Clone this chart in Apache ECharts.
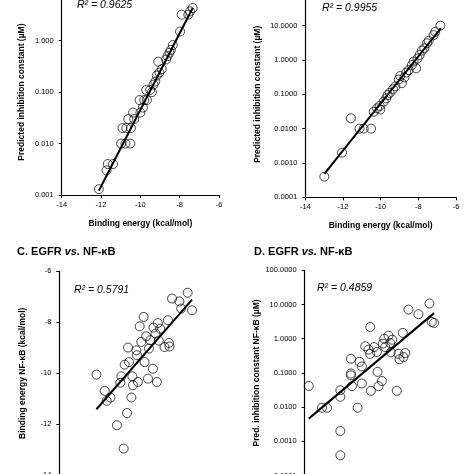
<!DOCTYPE html>
<html><head><meta charset="utf-8">
<script src="https://cdn.jsdelivr.net/npm/echarts@6/dist/echarts.min.js"></script>
<style>html,body{margin:0;padding:0;background:#fff}#c{width:474px;height:474px}</style>
</head><body><div id="c"></div>
<script>
// Panel A: EGFR binding energy (kcal/mol) vs predicted inhibition constant (µM)
const aEnergy = [-12.11,-11.72,-11.66,-11.39,-10.98,-10.76,-10.51,-10.91,-10.71,-10.48,-10.61,-10.31,-10.37,-10.0,-10.04,-9.80,-9.67,-9.87,-9.70,-9.50,-9.41,-9.33,-9.24,-9.16,-9.09,-9.03,-8.91,-8.69,-8.62,-8.52,-8.45,-8.35,-7.98,-7.90,-7.56,-7.47,-7.34];
const aKi = [0.0013,0.003,0.004,0.004,0.01,0.01,0.01,0.02,0.02,0.02,0.03,0.03,0.04,0.04,0.07,0.07,0.07,0.05,0.11,0.11,0.10,0.14,0.16,0.21,0.39,0.24,0.28,0.43,0.50,0.58,0.66,0.82,1.5,3.2,3.2,3.7,4.3];
const aFit = [[-12.11,0.00121],[-7.34,4.3]];
const aR2 = 'R² = 0.9625';

// Panel B: NF-kB binding energy vs predicted inhibition constant
const bEnergy = [-12.99,-12.05,-11.58,-11.12,-10.90,-10.51,-10.37,-10.19,-10.05,-10.02,-9.84,-9.63,-9.52,-9.70,-9.35,-9.22,-9.04,-8.96,-8.87,-8.74,-8.64,-8.51,-8.34,-8.25,-8.12,-8.04,-7.93,-7.81,-7.68,-7.54,-7.45,-7.19,-7.10,-6.83];
const bKi = [0.0004,0.002,0.02,0.01,0.01,0.01,0.031,0.039,0.046,0.036,0.061,0.095,0.11,0.076,0.14,0.17,0.27,0.34,0.21,0.31,0.43,0.51,0.71,0.9,0.57,1.1,1.4,1.87,2.2,3.06,3.6,5.3,6.6,10];
const bFit = [[-12.99,0.00048],[-6.80,8.4]];
const bR2 = 'R² = 0.9955';

// Panel C: EGFR binding energy vs NF-kB binding energy
const cEgfr = [-12.12,-11.7,-11.6,-11.41,-11.08,-10.91,-10.86,-10.74,-10.69,-10.57,-10.52,-10.47,-10.35,-10.3,-10.27,-10.1,-10.07,-10.02,-9.93,-9.85,-9.73,-9.68,-9.6,-9.51,-9.46,-9.39,-9.26,-9.23,-9.13,-9.06,-9.01,-8.96,-8.89,-8.67,-8.5,-8.45,-8.42,-8.29,-7.92,-7.83,-7.5,-7.28];
const cNfkb = [-10.05,-10.69,-11.08,-10.95,-12.04,-10.37,-10.12,-12.95,-9.66,-11.56,-8.99,-9.56,-10.95,-10.12,-10.47,-9.1,-9.29,-10.34,-8.16,-8.77,-7.79,-9.56,-8.55,-10.21,-9.03,-8.7,-9.82,-8.21,-8.44,-10.34,-8.03,-8.72,-8.25,-8.97,-7.92,-8.81,-8.95,-7.07,-7.18,-7.46,-6.84,-7.53];
const cFit = [[-12.12,-11.41],[-7.28,-7.11]];
const cR2 = 'R² = 0.5791';

// Panel D: EGFR predicted Ki vs NF-kB predicted Ki
const dEgfr = [0.00128,0.00287,0.0039,0.0088,0.0088,0.0088,0.0088,0.0168,0.0168,0.0168,0.0178,0.0252,0.0284,0.0327,0.0327,0.0402,0.0492,0.0544,0.0544,0.0566,0.0694,0.0817,0.085,0.0904,0.111,0.118,0.128,0.136,0.166,0.184,0.191,0.208,0.275,0.305,0.324,0.397,0.414,0.458,0.561,1.03,2.01,2.32,2.67];
const dNfkb = [0.0415,0.0096,0.0096,0.002,0.00039,0.020,0.031,0.096,0.085,0.26,0.041,0.0096,0.21,0.155,0.049,0.60,0.48,2.2,0.36,0.030,0.57,0.41,0.107,0.041,0.058,0.72,1.0,0.57,1.23,0.75,0.40,0.93,0.030,0.36,0.25,1.48,0.29,0.38,7.1,5.2,10.7,3.1,2.9];
const dFit = [[0.00128,0.0046],[2.67,5.6]];
const dR2 = 'R² = 0.4859';

const energyTicks = [-14,-12,-10,-8,-6];

const FONT = 'Liberation Sans, Arial, Helvetica, sans-serif';
const zip = (x, y) => x.map((v, i) => [v, y[i]]);

function axisCommon(idx) {
  return {
    gridIndex: idx,
    axisLine: {show: true, lineStyle: {color: '#000', width: 1.2}},
    axisTick: {show: true, inside: false, length: 3, lineStyle: {color: '#000', width: 1}},
    splitLine: {show: false},
    axisLabel: {color: '#000', fontSize: 7.5, fontFamily: FONT},
    nameTextStyle: {color: '#000', fontSize: 8.5, fontWeight: 'bold', fontFamily: FONT},
    nameLocation: 'middle'
  };
}
function energyX(idx, name) {
  return Object.assign(axisCommon(idx), {
    type: 'value', min: energyTicks[0], max: energyTicks[energyTicks.length-1], interval: 2,
    name: name, nameGap: 24,
    axisLabel: {color: '#000', fontSize: 7.5, fontFamily: FONT, margin: 6}
  });
}
function logAxis(idx, min, max, dec, name, gap) {
  return Object.assign(axisCommon(idx), {
    type: 'log', logBase: 10, min: min, max: max, interval: 1,
    name: name, nameGap: gap, nameRotate: 90,
    axisLabel: {color: '#000', fontSize: 7.5, fontFamily: FONT, margin: 8,
      formatter: v => Number(v).toFixed(dec)}
  });
}

function scatter(idx, data) {
  return {type: 'scatter', xAxisIndex: idx, yAxisIndex: idx, data: data,
    symbol: 'circle', symbolSize: 9, silent: true,
    itemStyle: {color: 'rgba(255,255,255,0)', borderColor: '#000', borderWidth: 0.9}};
}
function fit(idx, data) {
  return {type: 'line', xAxisIndex: idx, yAxisIndex: idx, data: data,
    symbol: 'none', silent: true, z: 3,
    lineStyle: {color: '#000', width: 2}};
}

const chart = echarts.init(document.getElementById('c'), null, {renderer: 'canvas'});
chart.setOption({
  animation: false,
  backgroundColor: '#fff',
  textStyle: {fontFamily: FONT},
  grid: [
    {left: 61.7, top: -10.8, width: 157.3, height: 205.8, outerBoundsMode: 'none', containLabel: false},
    {left: 305.3, top: -8.7, width: 150.7, height: 206, outerBoundsMode: 'none', containLabel: false},
    {left: 59.3, top: 271.3, width: 158, height: 204, outerBoundsMode: 'none', containLabel: false},
    {left: 304.7, top: 270.3, width: 151, height: 205.2, outerBoundsMode: 'none', containLabel: false}
  ],
  xAxis: [
    energyX(0, 'Binding energy (kcal/mol)'),
    energyX(1, 'Binding energy (kcal/mol)'),
    energyX(2, ''),
    Object.assign(logAxis(3, 0.001, 10, 4, '', 20), {nameRotate: 0})
  ],
  yAxis: [
    logAxis(0, 0.001, 10, 3, 'Predicted inhibition constant (µM)', 36),
    logAxis(1, 0.0001, 100, 4, 'Predicted inhibition constant (µM)', 42),
    Object.assign(axisCommon(2), {type: 'value', min: -14, max: -6, interval: 2,
      name: 'Binding energy NF-κB (kcal/mol)', nameGap: 32, nameRotate: 90,
      axisLabel: {color: '#000', fontSize: 7.5, fontFamily: FONT, margin: 8}}),
    logAxis(3, 0.0001, 100, 4, 'Pred. inhibition constant NF-κB (µM)', 44)
  ],
  series: [
    scatter(0, zip(aEnergy, aKi)), fit(0, aFit),
    scatter(1, zip(bEnergy, bKi)), fit(1, bFit),
    scatter(2, zip(cEgfr, cNfkb)), fit(2, cFit),
    scatter(3, zip(dEgfr, dNfkb)), fit(3, dFit)
  ],
  graphic: [
    {type: 'text', left: 77, top: 0, style: {text: aR2, fontSize: 10.5, fontStyle: 'italic', fontFamily: FONT, fill: '#000'}},
    {type: 'text', left: 322, top: 3, style: {text: bR2, fontSize: 10.5, fontStyle: 'italic', fontFamily: FONT, fill: '#000'}},
    {type: 'text', left: 74, top: 285, style: {text: cR2, fontSize: 10.5, fontStyle: 'italic', fontFamily: FONT, fill: '#000'}},
    {type: 'text', left: 317, top: 283, style: {text: dR2, fontSize: 10.5, fontStyle: 'italic', fontFamily: FONT, fill: '#000'}},
    {type: 'text', left: 17, top: 246, style: {
      text: '{b|C. EGFR }{i|vs.}{b| NF-κB}',
      rich: {b: {fontSize: 11, fontWeight: 'bold', fontFamily: FONT, color: '#000'},
             i: {fontSize: 11, fontWeight: 'bold', fontStyle: 'italic', fontFamily: FONT, color: '#000'}}}},
    {type: 'text', left: 254, top: 246, style: {
      text: '{b|D. EGFR }{i|vs.}{b| NF-κB}',
      rich: {b: {fontSize: 11, fontWeight: 'bold', fontFamily: FONT, color: '#000'},
             i: {fontSize: 11, fontWeight: 'bold', fontStyle: 'italic', fontFamily: FONT, color: '#000'}}}}
  ]
});
</script></body></html>
